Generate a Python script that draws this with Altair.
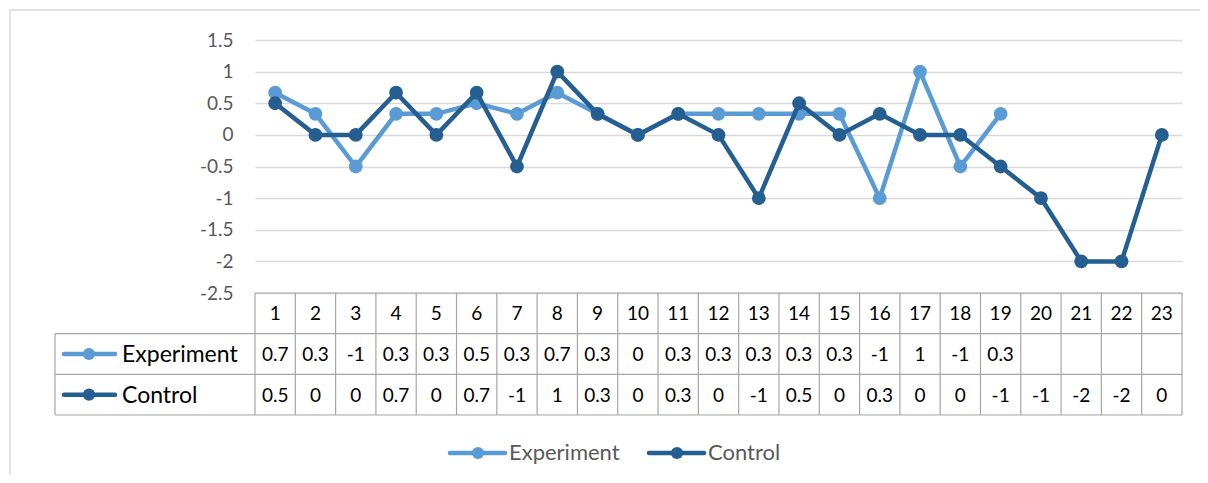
import altair as alt
import pandas as pd

# ---------------- data ----------------
categories = list(range(1, 24))
experiment = [0.667, 0.333, -0.5, 0.333, 0.333, 0.5, 0.333, 0.667, 0.333, 0,
              0.333, 0.333, 0.333, 0.333, 0.333, -1, 1, -0.5, 0.333]
control = [0.5, 0, 0, 0.667, 0, 0.667, -0.5, 1, 0.333, 0, 0.333, 0, -1, 0.5,
           0, 0.333, 0, 0, -0.5, -1, -2, -2, 0]
experiment_labels = ["0.7", "0.3", "-1", "0.3", "0.3", "0.5", "0.3", "0.7", "0.3", "0",
                     "0.3", "0.3", "0.3", "0.3", "0.3", "-1", "1", "-1", "0.3"]
control_labels = ["0.5", "0", "0", "0.7", "0", "0.7", "-1", "1", "0.3", "0", "0.3", "0",
                  "-1", "0.5", "0", "0.3", "0", "0", "-1", "-1", "-2", "-2", "0"]
series_names = ["Experiment", "Control"]
series_colors = ["#5B9BD5", "#255E91"]
y_ticks = [1.5, 1, 0.5, 0, -0.5, -1, -1.5, -2, -2.5]

# ---------------- layout ----------------
W, H = 927, 253
FONT = "Lato"
FS = 19
FS_WORD = 23
GRID = "#d9d9d9"
TABLE_LINE = "#a6a6a6"

exp_df = pd.DataFrame({"x": categories[:len(experiment)], "y": experiment})
ctl_df = pd.DataFrame({"x": categories, "y": control})

x_scale = alt.Scale(domain=[categories[0] - 0.5, categories[-1] + 0.5], nice=False, zero=False)
y_scale = alt.Scale(domain=[-2.5, 1.5], nice=False, zero=False)
t_scale = alt.Scale(domain=[0, 3], range=[253, 375], nice=False, zero=False)

X = alt.X("x:Q", scale=x_scale, axis=None)

y_axis = alt.Axis(values=y_ticks, labelExpr="toString(datum.value)", domain=False,
                  ticks=False, grid=True, gridColor=GRID, gridWidth=1.5,
                  labelColor="#595959", labelFont=FONT, labelFontSize=FS,
                  labelPadding=22, title=None)

one = pd.DataFrame({"a": [0]})

# outer chart border
border = alt.Chart(one).mark_rect(fillOpacity=0, stroke=GRID, strokeWidth=1.5).encode(
    x=alt.value(-245), x2=alt.value(1000), y=alt.value(-30), y2=alt.value(480))

# lines (only the very first layer carries the axis)
def series_layers(df, color, axis):
    line = alt.Chart(df).mark_line(color=color, strokeWidth=4.5).encode(
        x=X, y=alt.Y("y:Q", scale=y_scale, axis=axis))
    pts = alt.Chart(df).mark_circle(color=color, size=190, opacity=1).encode(
        x=X, y=alt.Y("y:Q", scale=y_scale, axis=None))
    return [line, pts]

exp_layers = series_layers(exp_df, series_colors[0], y_axis)
ctl_layers = series_layers(ctl_df, series_colors[1], None)

# table grid
bounds = [c - 0.5 for c in categories] + [categories[-1] + 0.5]
vlines_df = pd.DataFrame({"x": bounds, "r0": [0] * len(bounds), "r1": [3] * len(bounds)})
vlines = alt.Chart(vlines_df).mark_rule(color=TABLE_LINE, strokeWidth=1.2).encode(
    x=X, y=alt.Y("r0:Q", scale=t_scale, axis=None), y2="r1:Q")

left_df = pd.DataFrame({"r0": [1], "r1": [3]})
left_line = alt.Chart(left_df).mark_rule(color=TABLE_LINE, strokeWidth=1.2).encode(
    x=alt.value(-200), y=alt.Y("r0:Q", scale=t_scale, axis=None), y2="r1:Q")

top_df = pd.DataFrame({"r": [0], "x": [bounds[0]], "xe": [bounds[-1]]})
top_line = alt.Chart(top_df).mark_rule(color=TABLE_LINE, strokeWidth=1.2).encode(
    x=X, x2="xe:Q", y=alt.Y("r:Q", scale=t_scale, axis=None))

hl_df = pd.DataFrame({"r": [1, 2, 3], "x": [bounds[-1]] * 3})
h_lines = alt.Chart(hl_df).mark_rule(color=TABLE_LINE, strokeWidth=1.2).encode(
    x=X, x2=alt.value(-200), y=alt.Y("r:Q", scale=t_scale, axis=None))

# table text
cells = []
for c in categories:
    cells.append({"x": c, "r": 0.5, "t": str(c)})
for c, t in zip(categories, experiment_labels):
    cells.append({"x": c, "r": 1.5, "t": t})
for c, t in zip(categories, control_labels):
    cells.append({"x": c, "r": 2.5, "t": t})
cells_df = pd.DataFrame(cells)
cell_text = alt.Chart(cells_df).mark_text(font=FONT, fontSize=FS, color="#000000",
                                          align="center", baseline="middle", dy=1).encode(
    x=X, y=alt.Y("r:Q", scale=t_scale, axis=None), text="t:N")

# row headers
row_layers = []
for i, (name, col) in enumerate(zip(series_names, series_colors)):
    rdf = pd.DataFrame({"r": [1.5 + i], "name": [name]})
    b = alt.Chart(rdf).encode(y=alt.Y("r:Q", scale=t_scale, axis=None))
    row_layers.append(b.mark_rule(color=col, strokeWidth=4.5, strokeCap="round").encode(
        x=alt.value(-191), x2=alt.value(-140)))
    row_layers.append(b.mark_circle(color=col, size=150, opacity=1).encode(x=alt.value(-166)))
    row_layers.append(b.mark_text(font=FONT, fontSize=FS_WORD, color="#000000", align="left",
                                  baseline="middle", dy=1).encode(
        x=alt.value(-133), text="name:N"))

# bottom legend
legend_layers = []
legend_x = [195, 394]
for name, col, lx in zip(series_names, series_colors, legend_x):
    ldf = pd.DataFrame({"name": [name]})
    b = alt.Chart(ldf)
    legend_layers.append(b.mark_rule(color=col, strokeWidth=4.5, strokeCap="round").encode(
        x=alt.value(lx), x2=alt.value(lx + 55), y=alt.value(413)))
    legend_layers.append(b.mark_circle(color=col, size=150, opacity=1).encode(
        x=alt.value(lx + 28), y=alt.value(413)))
    legend_layers.append(b.mark_text(font=FONT, fontSize=22, color="#595959", align="left",
                                      baseline="middle").encode(
        x=alt.value(lx + 59), y=alt.value(413), text="name:N"))

chart = alt.layer(
    border,
    *exp_layers, *ctl_layers,
    vlines, left_line, top_line, h_lines, cell_text,
    *row_layers, *legend_layers,
).resolve_scale(y="independent").properties(
    width=W, height=H,
    autosize=alt.AutoSizeParams(type="none"),
    padding={"left": 247, "top": 32, "right": 18, "bottom": 182},
).configure_view(stroke="transparent")

chart.save("out.html", embed_options={"renderer": "svg", "actions": False})
